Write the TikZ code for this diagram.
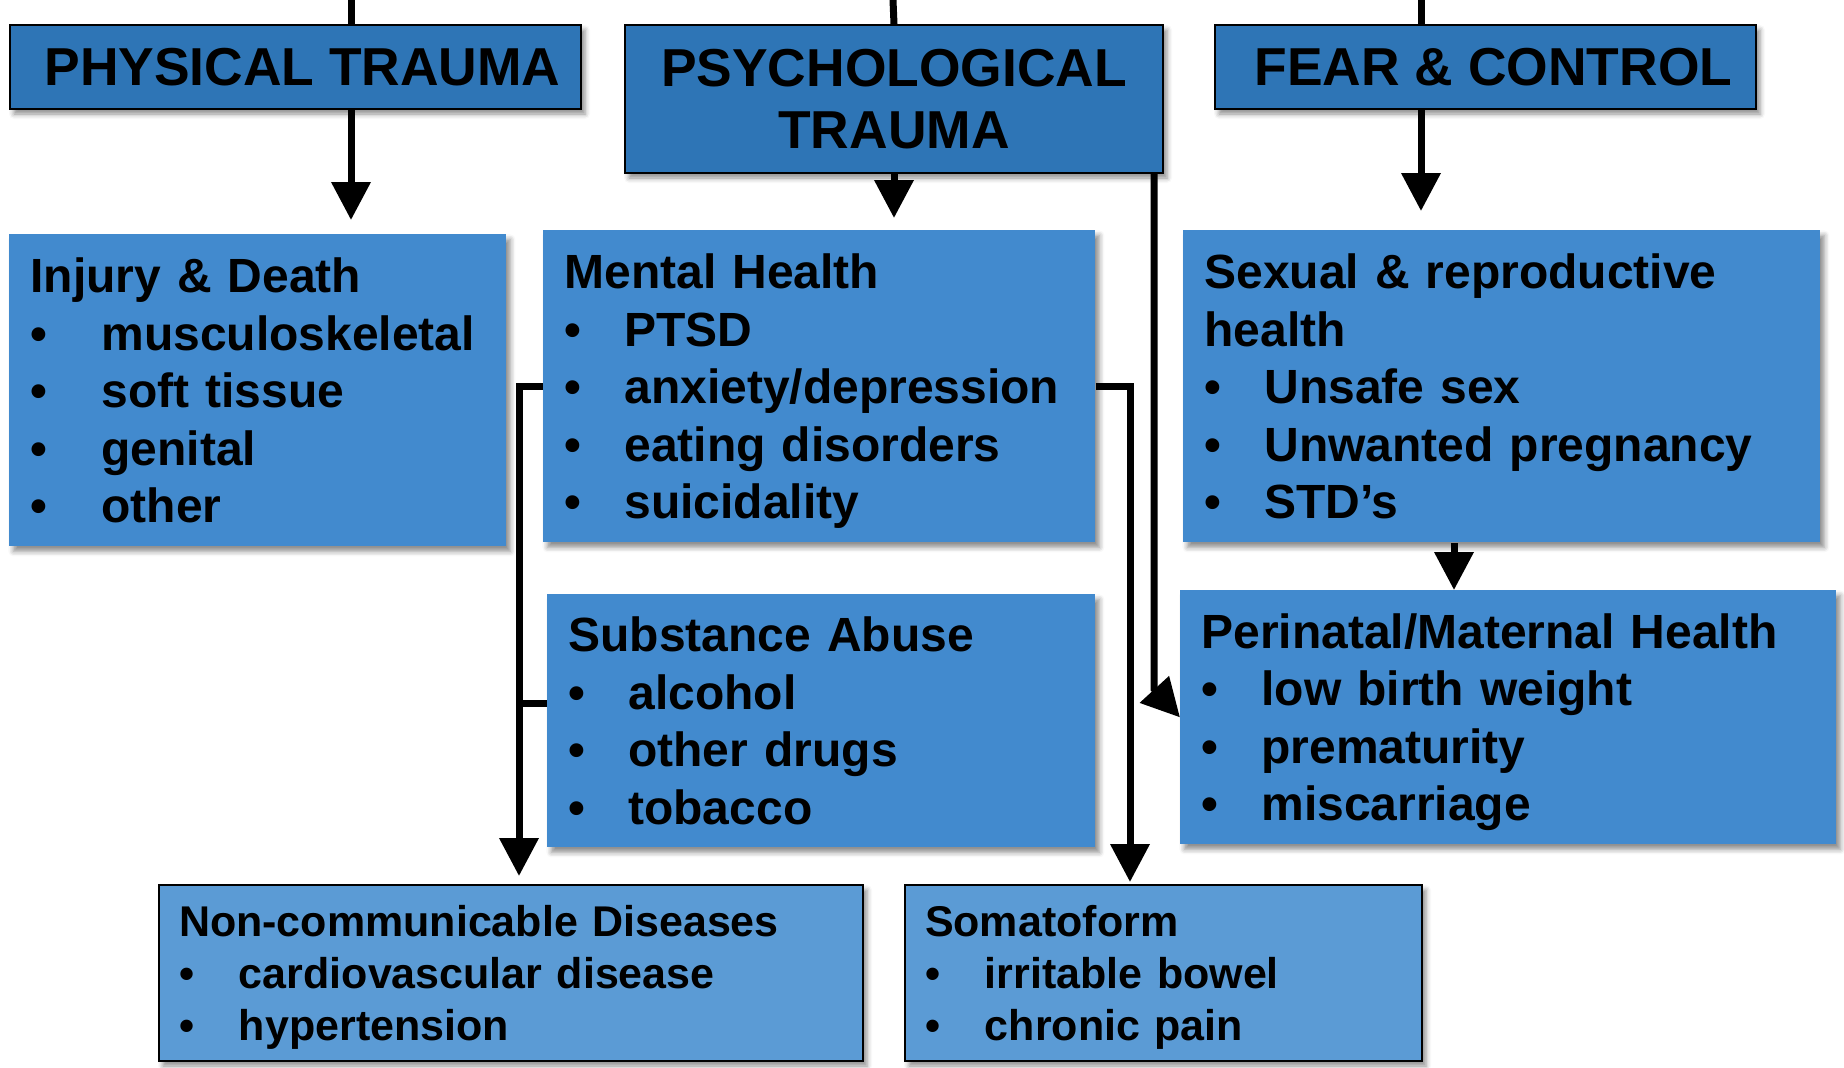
\documentclass[tikz,border=0pt]{standalone}
\usepackage{fontspec}
\setmainfont{Liberation Sans}
\usepackage{xcolor}
\usepackage{tikz}
\usetikzlibrary{positioning, arrows.meta, calc, shadows.blur}
\definecolor{headblue}{RGB}{46,117,182}
\definecolor{midblue}{RGB}{66,138,206}
\definecolor{lowblue}{RGB}{91,155,213}
\newcommand{\itm}[2][30pt]{\makebox[#1][l]{\textbullet}#2}

\begin{document}
\begin{tikzpicture}[
  x=0.5pt, y=-0.5pt,
  boxshadow/.style={blur shadow={shadow xshift=2pt, shadow yshift=-2.5pt, shadow blur radius=2.5pt, shadow opacity=45}},
  headbox/.style={draw=black, line width=1pt, fill=headblue, boxshadow, anchor=north west, align=center, inner sep=0pt, font=\fontsize{26.7}{31}\selectfont\bfseries},
  effectbox/.style={fill=midblue, boxshadow, anchor=north west, align=left, inner xsep=10.5pt, inner ysep=0pt, font=\fontsize{24}{28.8}\selectfont\bfseries,
    execute at begin node={\rule{0pt}{22.2pt}}, execute at end node={\rule[-5pt]{0pt}{0pt}}},
  lowbox/.style={draw=black, line width=1pt, fill=lowblue, boxshadow, anchor=north west, align=left, inner xsep=10pt, inner ysep=0pt, font=\fontsize{21.5}{25.9}\selectfont\bfseries,
    execute at begin node={\rule{0pt}{19.9pt}}, execute at end node={\rule[-4.5pt]{0pt}{0pt}}},
  link/.style={line width=3.5pt},
  arr/.style={link, -{Triangle[length=19pt, width=19pt]}}
]
\useasboundingbox (0,0) rectangle (1844,1067);

\node[headbox, minimum width=285.5pt, minimum height=42pt] (phys) at (9,24) {\hspace*{7pt}PHYSICAL TRAUMA};
\node[headbox, minimum width=269pt, minimum height=74pt] (psych) at (624,24) {PSYCHOLOGICAL\\TRAUMA};
\node[headbox, minimum width=270.5pt, minimum height=42pt] (fear) at (1214,24) {\hspace*{8pt}FEAR \& CONTROL};

\node[effectbox, text width=227.5pt, minimum height=156pt] (injury) at (9,234) {
  Injury \& Death\\
  \itm[35.5pt]{musculoskeletal}\\
  \itm[35.5pt]{soft tissue}\\
  \itm[35.5pt]{genital}\\
  \itm[35.5pt]{other}
};
\node[effectbox, text width=255pt, minimum height=156pt] (mental) at (543,230) {
  Mental Health\\
  \itm{PTSD}\\
  \itm{anxiety/depression}\\
  \itm{eating disorders}\\
  \itm{suicidality}
};
\node[effectbox, text width=297.5pt, minimum height=156pt] (sexual) at (1183,230) {
  Sexual \& reproductive\\
  health\\
  \itm{Unsafe sex}\\
  \itm{Unwanted pregnancy}\\
  \itm{STD’s}
};
\node[effectbox, text width=253pt, minimum height=126.5pt] (subst) at (547,594) {
  Substance Abuse\\
  \itm{alcohol}\\
  \itm{other drugs}\\
  \itm{tobacco}
};
\node[effectbox, text width=307pt, minimum height=127pt] (peri) at (1180,590) {
  Perinatal/Maternal Health\\
  \itm{low birth weight}\\
  \itm{prematurity}\\
  \itm{miscarriage}
};

\node[lowbox, text width=332pt, minimum height=88pt] (noncomm) at (158,884) {
  Non-communicable Diseases\\
  \itm{cardiovascular disease}\\
  \itm{hypertension}
};
\node[lowbox, text width=238.5pt, minimum height=88pt] (somato) at (904,884) {
  Somatoform\\
  \itm{irritable bowel}\\
  \itm{chronic pain}
};

\coordinate (physTop) at (351,0);
\coordinate (psychTop) at (893,0);
\coordinate (fearTop) at (1421,0);
\coordinate (sexDrop) at (1454,0);
\coordinate (periBend) at (1154,689);
\coordinate (somDrop) at (1130,0);
\coordinate (ncmDrop) at (519,0);
\coordinate (subJoin) at (519,703);

\draw[link] (physTop) -- (physTop |- phys.north);
\draw[arr, shorten >=7pt] (physTop |- phys.south) -- (physTop |- injury.north);
\draw[link] (psychTop) -- (psych.north);
\draw[arr, shorten >=6pt] (psych.south) -- (psych.south |- mental.north);
\draw[link] (fearTop) -- (fearTop |- fear.north);
\draw[arr, shorten >=9.5pt] (fearTop |- fear.south) -- (fearTop |- sexual.north);
\draw[arr] (sexDrop |- sexual.south) -- (sexDrop |- peri.north);
\draw[arr] (periBend |- psych.south) -- (periBend) -- (peri.west);
\draw[arr, shorten >=1pt] (mental.east) -| (somDrop |- somato.north);
\draw[arr, shorten >=4pt] (mental.west) -| (ncmDrop |- noncomm.north);
\draw[link] (subst.west |- subJoin) -- (subJoin);
\end{tikzpicture}
\end{document}
